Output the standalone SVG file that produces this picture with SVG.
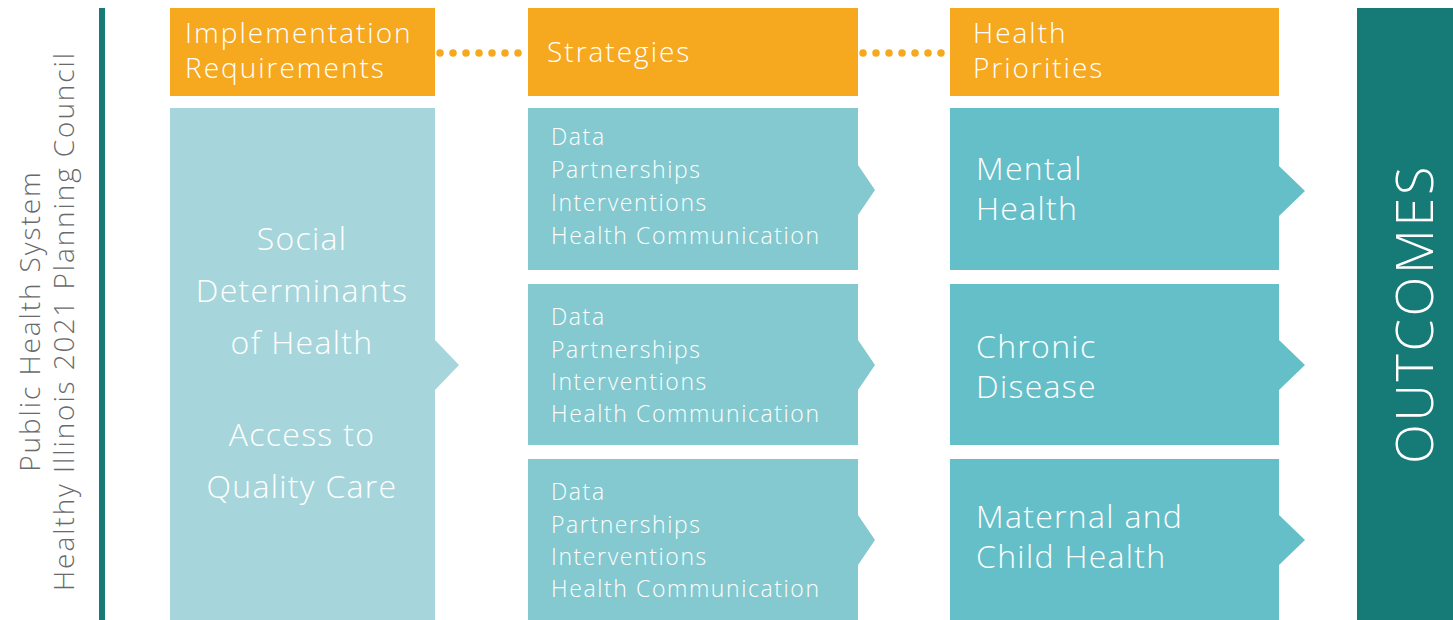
<svg xmlns="http://www.w3.org/2000/svg" width="1453" height="620" viewBox="0 0 1453 620">
<style>
text{font-family:"Open Sans","Noto Sans","Liberation Sans",sans-serif;fill:#ffffff;font-weight:300}
.hdr{fill:#F6A81F}
.sdoh{fill:#A6D6DB}
.strat{fill:#84C9CF}
.prio{fill:#65BFC8}
.teal{fill:#167A77}
.h{font-size:28px;letter-spacing:2px}
.s{font-size:23px;letter-spacing:1.6px}
.p{font-size:32px;letter-spacing:1.3px}
.side{font-size:28px;fill:#6a6a6a;text-anchor:middle;letter-spacing:1.9px}
.dots{stroke:#F6A81F;stroke-width:7.5;stroke-linecap:round;stroke-dasharray:0 13;fill:none}
</style>
<rect width="1453" height="620" fill="#ffffff"/>
<g id="side-label">
<rect x="99" y="8" width="6" height="612" class="teal"/>
<text class="side" transform="translate(40,321) rotate(-90)">Public Health System</text>
<text class="side" transform="translate(74,321) rotate(-90)">Healthy Illinois 2021 Planning Council</text>
</g>
<g id="connectors">
<path class="dots" d="M440 53 H524"/>
<path class="dots" d="M863 53 H946"/>
</g>
<g id="hdr-impl">
<rect x="170" y="8" width="265" height="88" class="hdr"/>
<text class="h" x="185" y="43">Implementation</text>
<text class="h" x="185" y="78">Requirements</text>
</g>
<g id="hdr-strat">
<rect x="528" y="8" width="330" height="88" class="hdr"/>
<text class="h" x="547" y="62">Strategies</text>
</g>
<g id="hdr-prio">
<rect x="950" y="8" width="329" height="88" class="hdr"/>
<text class="h" x="973" y="43">Health</text>
<text class="h" x="973" y="78">Priorities</text>
</g>
<g id="sdoh">
<path d="M170 108 H435 V340 L459 365 L435 390 V620 H170 Z" class="sdoh"/>
<g style="text-anchor:middle">
<text class="p" x="302" y="250">Social</text>
<text class="p" x="302" y="302">Determinants</text>
<text class="p" x="302" y="354">of Health</text>
<text class="p" x="302" y="446">Access to</text>
<text class="p" x="302" y="498">Quality Care</text>
</g>
</g>
<g id="strat-1">
<path d="M528 108 H858 V165 L875 190 L858 215 V270 H528 Z" class="strat"/>
<text class="s" x="551" y="145">Data</text>
<text class="s" x="551" y="178">Partnerships</text>
<text class="s" x="551" y="211">Interventions</text>
<text class="s" x="551" y="244">Health Communication</text>
</g>
<g id="strat-2">
<path d="M528 284 H858 V340 L875 365 L858 390 V445 H528 Z" class="strat"/>
<text class="s" x="551" y="325">Data</text>
<text class="s" x="551" y="358">Partnerships</text>
<text class="s" x="551" y="390">Interventions</text>
<text class="s" x="551" y="422">Health Communication</text>
</g>
<g id="strat-3">
<path d="M528 459 H858 V515 L875 540 L858 565 V620 H528 Z" class="strat"/>
<text class="s" x="551" y="500">Data</text>
<text class="s" x="551" y="533">Partnerships</text>
<text class="s" x="551" y="565">Interventions</text>
<text class="s" x="551" y="597">Health Communication</text>
</g>
<g id="prio-1">
<path d="M950 108 H1279 V166 L1305 191 L1279 216 V270 H950 Z" class="prio"/>
<text class="p" x="976" y="180">Mental</text>
<text class="p" x="976" y="220">Health</text>
</g>
<g id="prio-2">
<path d="M950 284 H1279 V340 L1305 365 L1279 390 V445 H950 Z" class="prio"/>
<text class="p" x="976" y="358">Chronic</text>
<text class="p" x="976" y="398">Disease</text>
</g>
<g id="prio-3">
<path d="M950 459 H1279 V515 L1305 540 L1279 565 V620 H950 Z" class="prio"/>
<text class="p" x="976" y="528">Maternal and</text>
<text class="p" x="976" y="568">Child Health</text>
</g>
<g id="outcomes">
<rect x="1357" y="8" width="96" height="612" class="teal"/>
<text transform="translate(1433,314) rotate(-90)" style="font-size:52px;text-anchor:middle;letter-spacing:2.7px">OUTCOMES</text>
</g>
</svg>
